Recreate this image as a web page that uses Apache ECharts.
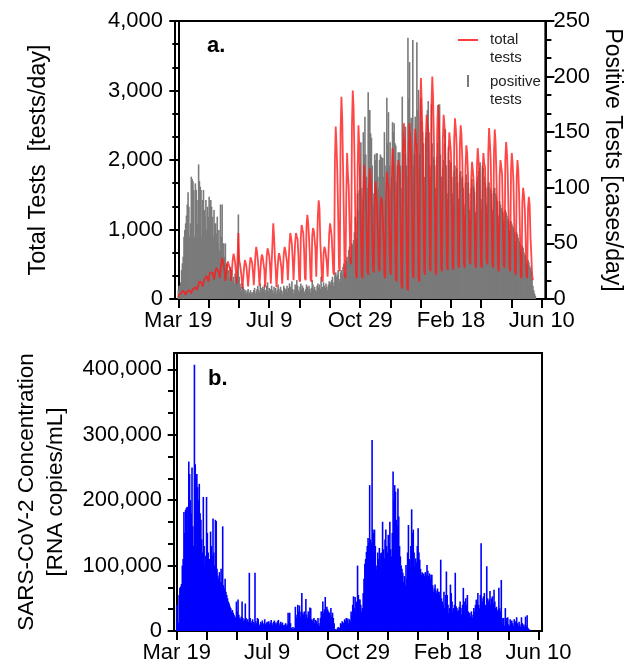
<!DOCTYPE html>
<html>
<head>
<meta charset="utf-8">
<script src="https://cdn.jsdelivr.net/npm/echarts@6/dist/echarts.min.js"></script>
<style>
  html, body { margin: 0; padding: 0; background: #fff; }
  #chart { width: 632px; height: 666px; }
</style>
</head>
<body>
<div id="chart"></div>
<script>
// day index 0 = Mar 19 (2020), one value per day
const tickDays = [0, 112, 224, 336, 448];
const tickLabels = ['Mar 19', 'Jul 9', 'Oct 29', 'Feb 18', 'Jun 10'];

// total tests per day (left axis, panel a)
const totalTests = [
  20, 60, 45, 35, 90, 120, 100,
  110, 90, 60, 65, 110, 130, 120,
  125, 110, 80, 85, 140, 160, 150,
  170, 150, 130, 140, 220, 250, 240,
  260, 230, 180, 190, 280, 300, 290,
  330, 300, 250, 260, 380, 400, 370,
  380, 340, 280, 290, 420, 450, 430,
  460, 380, 300, 320, 520, 590, 540,
  480, 400, 260, 250, 460, 540, 500,
  520, 420, 260, 250, 560, 650, 600,
  520, 380, 220, 200, 950, 560, 500,
  420, 300, 150, 130, 450, 560, 520,
  460, 320, 180, 170, 500, 600, 560,
  520, 380, 200, 180, 620, 750, 680,
  560, 400, 190, 170, 560, 640, 600,
  580, 420, 170, 150, 620, 730, 680,
  620, 480, 220, 200, 800, 1090, 900,
  600, 420, 170, 150, 560, 660, 620,
  620, 450, 220, 200, 650, 750, 700,
  700, 520, 270, 250, 800, 950, 880,
  780, 560, 270, 250, 820, 950, 900,
  860, 620, 280, 250, 900, 1065, 1000,
  950, 700, 300, 270, 1050, 1210, 1100,
  900, 650, 280, 250, 900, 1020, 980,
  1000, 720, 320, 300, 1200, 1420, 1300,
  820, 560, 280, 250, 650, 750, 720,
  700, 520, 320, 300, 950, 1090, 1000,
  900, 650, 380, 350, 2000, 2480, 2200,
  1800, 1200, 450, 400, 2400, 2910, 2600,
  1900, 1200, 350, 300, 1500, 2100, 1800,
  1600, 1100, 550, 500, 2500, 3000, 2750,
  2100, 1300, 350, 300, 1850, 2500, 2200,
  1600, 1000, 350, 300, 1500, 1930, 1700,
  1500, 1000, 400, 350, 1600, 1880, 1750,
  1400, 900, 420, 380, 1400, 1690, 1550,
  1300, 900, 450, 400, 1300, 1470, 1400,
  1400, 900, 350, 300, 1500, 1830, 1700,
  1600, 1000, 400, 350, 1800, 2170, 2000,
  1700, 1100, 300, 250, 1700, 2000, 1900,
  1800, 1000, 200, 150, 2100, 2530, 2300,
  2000, 1200, 180, 120, 2200, 2530, 2300,
  2000, 1200, 350, 300, 2100, 2450, 2250,
  2200, 1400, 300, 250, 2600, 3180, 2800,
  2300, 1500, 400, 350, 2300, 2650, 2500,
  2400, 1600, 450, 400, 2800, 3200, 2900,
  2300, 1500, 400, 350, 2400, 2790, 2600,
  2200, 1400, 450, 400, 2300, 2650, 2500,
  2100, 1400, 470, 420, 2100, 2400, 2250,
  2100, 1400, 470, 420, 2300, 2600, 2450,
  2200, 1500, 500, 450, 2200, 2500, 2350,
  2000, 1300, 500, 450, 1900, 2210, 2100,
  1800, 1200, 550, 500, 1700, 1975, 1850,
  1700, 1200, 500, 450, 1900, 2170, 2000,
  1800, 1200, 500, 450, 1850, 2100, 1950,
  1900, 1300, 550, 500, 2100, 2460, 2250,
  2000, 1300, 500, 450, 2100, 2440, 2250,
  1800, 1200, 450, 400, 1750, 2000, 1900,
  1800, 1200, 500, 450, 2000, 2260, 2100,
  1800, 1200, 450, 400, 1850, 2100, 1950,
  1700, 1100, 400, 350, 1750, 2000, 1850,
  1500, 1000, 350, 300, 1400, 1600, 1500,
  1300, 900, 350, 300, 1300, 1470, 1350,
  900, 650, 350, 270
];

// positive tests per day (right axis, panel a)
const positiveTests = [
  8, 12, 6, 15, 26, 32, 38,
  56, 62, 68, 75, 85, 96, 83,
  56, 68, 110, 108, 106, 98, 56,
  104, 98, 89, 68, 121, 106, 101,
  98, 56, 89, 98, 80, 74, 89,
  62, 83, 74, 92, 68, 89, 83,
  74, 56, 80, 68, 68, 59, 74,
  50, 62, 44, 85, 56, 85, 50,
  50, 38, 50, 32, 32, 26, 26,
  20, 29, 20, 26, 17, 20, 14,
  23, 17, 20, 26, 76, 20, 14,
  11, 8, 14, 11, 9, 6, 8,
  5, 7, 9, 4, 6, 8, 5,
  6, 4, 8, 10, 5, 7, 9,
  12, 8, 6, 14, 10, 7, 11,
  9, 13, 6, 8, 12, 15, 7,
  10, 6, 9, 12, 8, 5, 11,
  7, 10, 5, 8, 13, 9, 6,
  11, 8, 4, 7, 12, 10, 8,
  9, 12, 6, 10, 14, 11, 8,
  16, 9, 5, 8, 13, 10, 17,
  12, 8, 6, 11, 14, 9, 12,
  10, 7, 5, 9, 13, 11, 8,
  12, 9, 6, 10, 17, 13, 9,
  11, 8, 7, 12, 14, 10, 13,
  9, 20, 8, 11, 15, 12, 10,
  14, 11, 8, 13, 16, 12, 15,
  17, 20, 12, 15, 22, 24, 20,
  22, 26, 18, 16, 24, 26, 22,
  29, 32, 24, 22, 35, 38, 33,
  44, 47, 38, 35, 50, 48, 53,
  60, 74, 55, 50, 95, 80, 98,
  120, 141, 100, 90, 150, 130, 164,
  130, 110, 100, 186, 160, 170, 149,
  145, 120, 95, 85, 130, 125, 131,
  131, 110, 100, 125, 130, 128, 120,
  127, 110, 150, 90, 120, 181, 140,
  168, 120, 141, 100, 110, 159, 150,
  158, 140, 138, 105, 120, 132, 125,
  132, 120, 100, 182, 150, 144, 130,
  155, 120, 110, 235, 180, 213, 150,
  163, 140, 233, 120, 130, 164, 150,
  231, 170, 188, 130, 120, 181, 160,
  150, 140, 110, 100, 145, 150, 170,
  178, 150, 120, 110, 175, 140, 128,
  125, 120, 100, 90, 128, 140, 175,
  175, 130, 110, 95, 118, 125, 140,
  153, 120, 95, 90, 137, 125, 120,
  123, 110, 95, 85, 115, 120, 110,
  118, 105, 90, 80, 112, 115, 108,
  110, 100, 85, 75, 105, 112, 100,
  105, 95, 80, 72, 100, 108, 102,
  100, 96, 78, 70, 105, 110, 115,
  118, 123, 90, 80, 120, 118, 110,
  105, 100, 85, 78, 102, 105, 100,
  98, 95, 80, 72, 98, 100, 95,
  92, 88, 75, 68, 88, 85, 82,
  80, 78, 70, 62, 80, 78, 75,
  72, 70, 62, 55, 70, 68, 66,
  64, 60, 52, 48, 60, 58, 55,
  52, 50, 44, 40, 48, 46, 42,
  40, 38, 32, 28, 35, 33, 30,
  28, 25, 18, 12, 8, 5, 3
];

// SARS-CoV-2 RNA, thousand copies/mL per day (panel b)
const rnaThousands = [
  40, 15, 12, 55, 66, 68, 72,
  100, 110, 182, 150, 185, 188, 190,
  150, 259, 240, 200, 180, 250, 160,
  130, 407, 255, 235, 240, 220, 200,
  225, 180, 170, 140, 120, 205, 130,
  100, 115, 205, 150, 120, 110, 110,
  152, 130, 115, 172, 120, 100, 170,
  168, 95, 85, 80, 90, 75, 95,
  75, 160, 70, 65, 80, 60, 55,
  50, 45, 42, 38, 35, 30, 32,
  28, 25, 22, 20, 45, 30, 48,
  25, 20, 18, 22, 45, 20, 15,
  18, 42, 20, 15, 18, 14, 89,
  20, 15, 12, 18, 14, 10, 89,
  15, 12, 20, 18, 10, 8, 14,
  12, 16, 10, 12, 18, 10, 12,
  14, 12, 15, 10, 13, 17, 12,
  9, 14, 16, 11, 13, 10, 15,
  17, 8, 12, 14, 10, 13, 9,
  7, 10, 12, 8, 10, 28, 15,
  28, 12, 5, 4, 6, 3, 5,
  37, 20, 25, 40, 30, 39, 22,
  30, 58, 28, 25, 30, 20, 49,
  25, 20, 30, 22, 36, 35, 18,
  15, 18, 20, 12, 17, 15, 10,
  20, 12, 8, 20, 30, 25, 45,
  28, 33, 52, 30, 37, 33, 30,
  28, 25, 35, 22, 28, 20, 12,
  2, 3, 1, 4, 6, 2, 5,
  12, 10, 15, 8, 13, 18, 15,
  20, 17, 19, 12, 18, 15, 30,
  25, 40, 53, 35, 52, 30, 45,
  100, 55, 48, 48, 40, 30, 35,
  58, 80, 103, 110, 121, 130, 142,
  135, 223, 140, 135, 292, 155, 150,
  155, 130, 94, 100, 120, 110, 127,
  119, 100, 120, 167, 125, 111, 140,
  155, 130, 120, 147, 135, 167, 125,
  114, 150, 244, 200, 223, 213, 170,
  160, 218, 175, 130, 114, 100, 95,
  89, 75, 84, 70, 101, 80, 120,
  162, 110, 99, 130, 186, 150, 155,
  120, 99, 111, 105, 130, 157, 120,
  109, 95, 86, 90, 84, 88, 84,
  90, 85, 101, 92, 84, 88, 80,
  86, 86, 70, 60, 65, 71, 62,
  58, 65, 60, 55, 60, 109, 50,
  45, 40, 60, 35, 55, 91, 55,
  40, 27, 35, 71, 58, 45, 30,
  35, 40, 89, 38, 35, 30, 32,
  37, 45, 35, 25, 40, 66, 45,
  30, 50, 40, 55, 30, 25, 28,
  22, 30, 20, 25, 35, 30, 40,
  48, 45, 58, 40, 35, 55, 134,
  50, 45, 53, 58, 40, 35, 99,
  50, 45, 48, 61, 40, 50, 53,
  42, 63, 45, 35, 37, 30, 33,
  66, 35, 30, 78, 20, 12, 20,
  8, 35, 20, 15, 21, 10, 8,
  18, 11, 16, 12, 8, 18, 10,
  15, 21, 12, 8, 14, 10, 6,
  21, 12, 8, 10, 6, 22, 8,
  24, 5, 3, 2, 1
];

const FONT = '"Liberation Sans", Arial, Helvetica, sans-serif';
const black = { color: '#000', width: 2 };

// x ticks: every third of the label spacing
const xTicks = [];
for (let i = 0; i < tickDays.length - 1; i++) {
  for (let k = 0; k < 3; k++) {
    xTicks.push(tickDays[i] + (tickDays[i + 1] - tickDays[i]) * k / 3);
  }
}
xTicks.push(tickDays[tickDays.length - 1]);

const rnaMinorTicks = [];
for (let v = 0; v <= 425000; v += 100000 / 3) rnaMinorTicks.push(v);

function dayAxis(gridIndex, min) {
  return {
    type: 'value', gridIndex: gridIndex, min: min, max: 452.4,
    axisLine: { show: true, onZero: false, lineStyle: black },
    axisTick: { show: true, customValues: xTicks, length: 9, lineStyle: black },
    axisLabel: {
      customValues: tickDays, margin: 11, color: '#000', fontSize: 22, fontFamily: FONT,
      formatter: function (v) { return tickLabels[tickDays.indexOf(Math.round(v))]; }
    },
    splitLine: { show: false }
  };
}

function numLabel(v) { return v.toLocaleString('en-US'); }

const option = {
  animation: false,
  backgroundColor: '#fff',
  grid: [
    { left: 175, top: 21, width: 372, height: 278, show: true, borderColor: '#000', borderWidth: 2 },
    { left: 174, top: 353, width: 368, height: 278, show: true, borderColor: '#000', borderWidth: 2 }
  ],
  xAxis: [dayAxis(0, -4.1), dayAxis(1, -3.3)],
  yAxis: [
    {
      type: 'value', gridIndex: 0, position: 'left', min: 0, max: 4000, interval: 1000,
      name: 'Total Tests  [tests/day]', nameLocation: 'middle', nameGap: 124, nameRotate: 90,
      nameTextStyle: { color: '#000', fontSize: 23.5, fontFamily: FONT },
      axisLine: { show: true, lineStyle: black },
      axisTick: { show: true, length: 9, lineStyle: black },
      minorTick: { show: true, splitNumber: 3, length: 6, lineStyle: black },
      axisLabel: { formatter: numLabel, color: '#000', fontSize: 22, fontFamily: FONT, margin: 12 },
      splitLine: { show: false }
    },
    {
      type: 'value', gridIndex: 0, position: 'right', min: 0, max: 250, interval: 50,
      name: 'Positive Tests [cases/day]', nameLocation: 'middle', nameGap: 52, nameRotate: -90,
      nameTextStyle: { color: '#000', fontSize: 23, fontFamily: FONT },
      axisLine: { show: true, lineStyle: black },
      axisTick: { show: true, length: 9, lineStyle: black },
      minorTick: { show: true, splitNumber: 3, length: 6, lineStyle: black },
      axisLabel: { color: '#000', fontSize: 22, fontFamily: FONT, margin: 8 },
      splitLine: { show: false }
    },
    {
      type: 'value', gridIndex: 1, position: 'left', min: 0, max: 425000,
      name: 'SARS-CoV-2 Concentration\n[RNA copies/mL]', nameLocation: 'middle', nameGap: 104, nameRotate: 90,
      nameTextStyle: { color: '#000', fontSize: 22.5, fontFamily: FONT, lineHeight: 29 },
      axisLine: { show: true, lineStyle: black },
      axisTick: { show: true, customValues: [0, 100000, 200000, 300000, 400000], length: 9, lineStyle: black },
      axisLabel: { customValues: [0, 100000, 200000, 300000, 400000], formatter: numLabel, color: '#000', fontSize: 22, fontFamily: FONT, margin: 12 },
      splitLine: { show: false }
    },
    {
      // shorter minor ticks for panel b
      type: 'value', gridIndex: 1, position: 'left', min: 0, max: 425000,
      axisLine: { show: false },
      axisTick: { show: true, customValues: rnaMinorTicks, length: 6, lineStyle: black },
      axisLabel: { show: false },
      splitLine: { show: false }
    }
  ],
  series: [
    {
      name: 'positive tests', type: 'bar', xAxisIndex: 0, yAxisIndex: 1,
      data: positiveTests.map(function (v, i) { return [i, v]; }),
      barWidth: 1.6, itemStyle: { color: '#7a7a7a' }, z: 2
    },
    {
      name: 'total tests', type: 'line', xAxisIndex: 0, yAxisIndex: 0,
      data: totalTests.map(function (v, i) { return [i, v]; }),
      symbol: 'none', lineStyle: { color: 'rgba(255,25,25,0.8)', width: 1.8 }, z: 3
    },
    {
      name: 'RNA', type: 'bar', xAxisIndex: 1, yAxisIndex: 2,
      data: rnaThousands.map(function (v, i) { return [i, v * 1000]; }),
      barWidth: 1.6, itemStyle: { color: '#0000ff' }, z: 2
    }
  ],
  graphic: [
    { type: 'text', left: 207, top: 35, style: { text: 'a.', font: 'bold 22px ' + FONT, fill: '#000' } },
    { type: 'text', left: 208, top: 368, style: { text: 'b.', font: 'bold 22px ' + FONT, fill: '#000' } },
    { type: 'line', shape: { x1: 458, y1: 40, x2: 478, y2: 40 }, style: { stroke: 'rgba(255,25,25,0.85)', lineWidth: 2 } },
    { type: 'rect', shape: { x: 467, y: 75, width: 2, height: 12 }, style: { fill: '#7a7a7a' } },
    { type: 'text', left: 490, top: 31, style: { text: 'total\ntests', font: '15px ' + FONT, fill: '#222', lineHeight: 18 } },
    { type: 'text', left: 490, top: 73, style: { text: 'positive\ntests', font: '15px ' + FONT, fill: '#222', lineHeight: 18 } }
  ]
};

const myChart = echarts.init(document.getElementById('chart'));
myChart.setOption(option);
</script>
</body>
</html>
